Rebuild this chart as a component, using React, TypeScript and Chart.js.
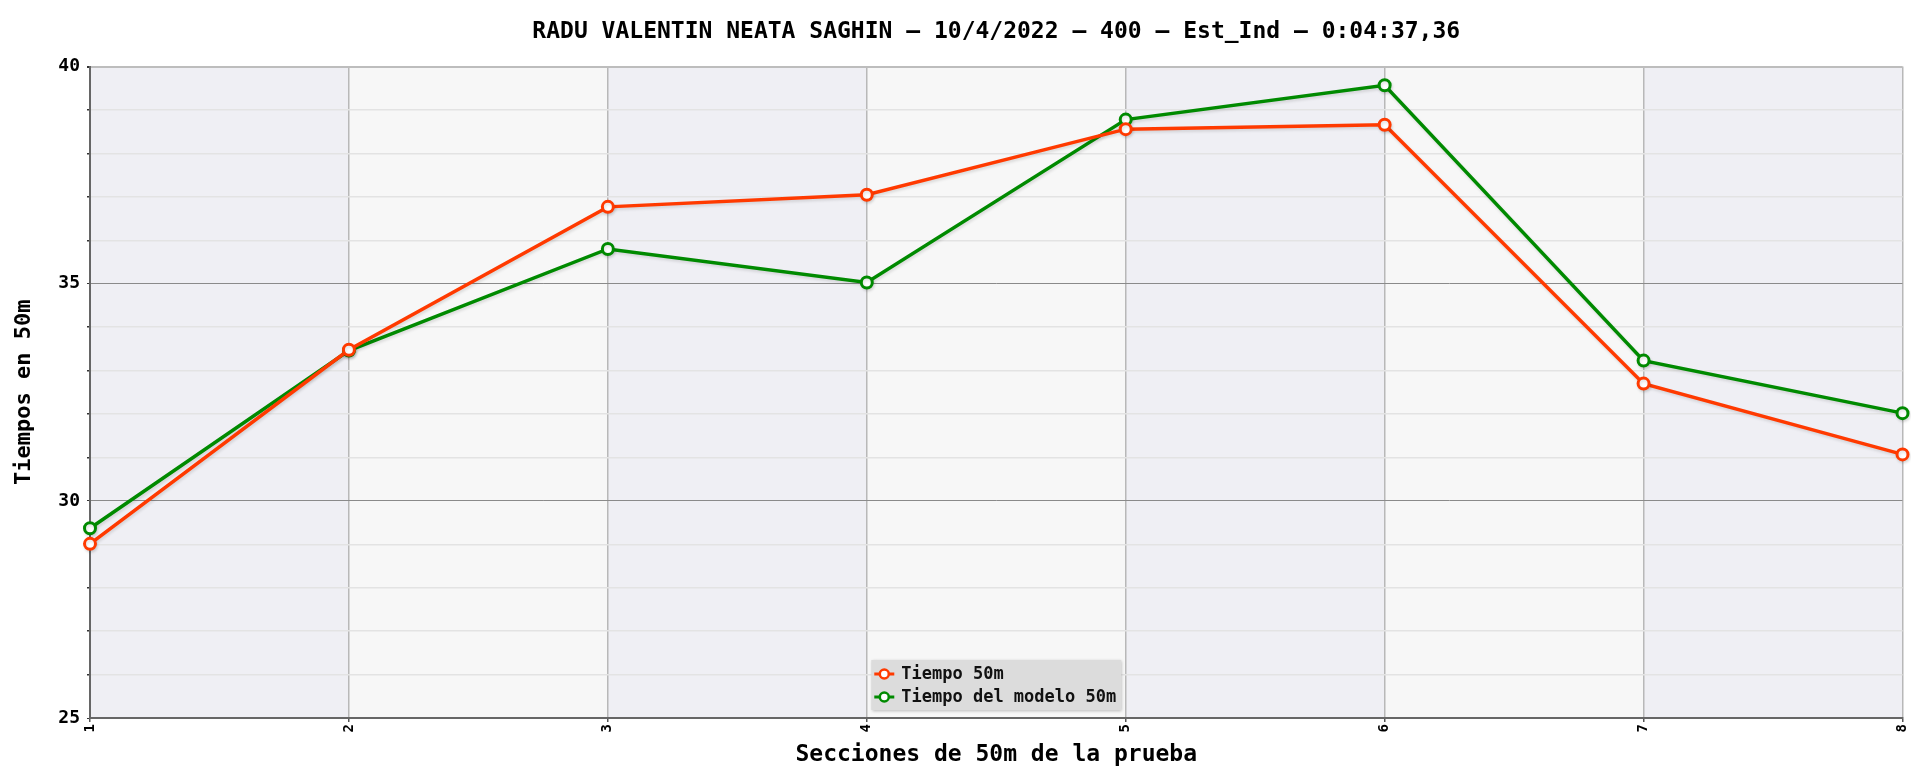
import React, { useEffect, useRef } from 'react';
import { Chart, registerables } from 'chart.js';

Chart.register(...registerables);

const sections = ['1', '2', '3', '4', '5', '6', '7', '8'];
const tiempo50 = [29.01, 33.48, 36.77, 37.05, 38.56, 38.66, 32.7, 31.07];
const tiempoModelo50 = [29.37, 33.46, 35.8, 35.03, 38.78, 39.57, 33.23, 32.02];
const seriesLabels = ['Tiempo 50m', 'Tiempo del modelo 50m'];
const titleText = 'RADU VALENTIN NEATA SAGHIN – 10/4/2022 – 400 – Est_Ind – 0:04:37,36';
const xTitle = 'Secciones de 50m de la prueba';
const yTitle = 'Tiempos en 50m';
const yMin = 25;
const yMax = 40;

const RED = '#ff3a00';
const GREEN = '#008a00';
const FONT = '"DejaVu Sans Mono", "Liberation Mono", monospace';
const TITLE_SIZE = 23;
const TITLE_PAD_TOP = 18;

const bandsPlugin = {
  id: 'bands',
  beforeDraw(chart: any) {
    const { ctx, chartArea: ca } = chart;
    const xs = chart.scales.x;
    ctx.save();
    ctx.fillStyle = '#ffffff';
    ctx.fillRect(0, 0, chart.width, chart.height);
    for (let i = 0; i < sections.length - 1; i++) {
      const a = xs.getPixelForValue(i);
      const b = xs.getPixelForValue(i + 1);
      ctx.fillStyle = i % 2 === 0 ? '#efeff4' : '#f7f7f7';
      ctx.fillRect(a, ca.top, b - a, ca.bottom - ca.top);
    }
    ctx.restore();
  },
};

const shadowPlugin = {
  id: 'lineShadow',
  beforeDatasetDraw(chart: any) {
    const ctx = chart.ctx;
    ctx.save();
    ctx.shadowColor = 'rgba(0,0,0,0.12)';
    ctx.shadowBlur = 3;
    ctx.shadowOffsetX = 1;
    ctx.shadowOffsetY = 2;
  },
  afterDatasetDraw(chart: any) {
    chart.ctx.restore();
  },
};

const titleDrawPlugin = {
  id: 'centeredTitle',
  afterDraw(chart: any) {
    const { ctx, chartArea: ca } = chart;
    ctx.save();
    ctx.font = `bold ${TITLE_SIZE}px ${FONT}`;
    ctx.fillStyle = '#000';
    ctx.textAlign = 'center';
    ctx.textBaseline = 'middle';
    ctx.fillText(titleText, (ca.left + ca.right) / 2, TITLE_PAD_TOP + (TITLE_SIZE * 1.2) / 2);
    ctx.restore();
  },
};

const legendPlugin = {
  id: 'customLegend',
  afterDraw(chart: any) {
    const { ctx, chartArea: ca } = chart;
    const items = [
      { label: seriesLabels[0], color: RED },
      { label: seriesLabels[1], color: GREEN },
    ];
    ctx.save();
    ctx.font = `bold 17px ${FONT}`;
    let textW = 0;
    items.forEach((it) => {
      textW = Math.max(textW, ctx.measureText(it.label).width);
    });
    const boxW = 30 + textW + 5;
    const boxH = 50;
    const x0 = (ca.left + ca.right) / 2 - boxW / 2;
    const y0 = ca.bottom - 8 - boxH;
    ctx.shadowColor = 'rgba(0,0,0,0.25)';
    ctx.shadowBlur = 3;
    ctx.shadowOffsetX = 1;
    ctx.shadowOffsetY = 1;
    ctx.fillStyle = '#dcdcdc';
    ctx.fillRect(x0, y0, boxW, boxH);
    ctx.shadowColor = 'transparent';
    items.forEach((it, i) => {
      const cy = y0 + 14 + i * 23;
      ctx.strokeStyle = it.color;
      ctx.lineWidth = 3;
      ctx.beginPath();
      ctx.moveTo(x0 + 3, cy);
      ctx.lineTo(x0 + 23, cy);
      ctx.stroke();
      ctx.beginPath();
      ctx.arc(x0 + 13, cy, 4.5, 0, Math.PI * 2);
      ctx.fillStyle = '#ffffff';
      ctx.fill();
      ctx.lineWidth = 2.5;
      ctx.stroke();
      ctx.fillStyle = '#111';
      ctx.textBaseline = 'middle';
      ctx.textAlign = 'left';
      ctx.fillText(it.label, x0 + 30, cy + 1);
    });
    ctx.restore();
  },
};

export default function App() {
  const canvasRef = useRef<HTMLCanvasElement | null>(null);

  useEffect(() => {
    document.body.style.margin = '0';
    const canvas = canvasRef.current;
    if (!canvas) return;
    const chart = new Chart(canvas, {
      type: 'line',
      data: {
        labels: sections,
        datasets: [
          {
            label: seriesLabels[0],
            data: tiempo50,
            borderColor: RED,
            backgroundColor: RED,
            borderWidth: 3.5,
            pointRadius: 5.5,
            pointBorderWidth: 3,
            pointBackgroundColor: '#ffffff',
            pointBorderColor: RED,
            tension: 0,
          },
          {
            label: seriesLabels[1],
            data: tiempoModelo50,
            borderColor: GREEN,
            backgroundColor: GREEN,
            borderWidth: 3.5,
            pointRadius: 5.5,
            pointBorderWidth: 3,
            pointBackgroundColor: '#ffffff',
            pointBorderColor: GREEN,
            tension: 0,
          },
        ],
      },
      options: {
        responsive: false,
        animation: false,
        layout: { padding: { left: 0, right: 0, top: 0, bottom: 0 } },
        plugins: {
          legend: { display: false },
          tooltip: { enabled: false },
          title: {
            display: true,
            text: titleText,
            color: 'rgba(0,0,0,0)',
            font: { family: FONT, size: TITLE_SIZE, weight: 'bold' },
            padding: { top: TITLE_PAD_TOP, bottom: 21 },
          },
        },
        scales: {
          x: {
            type: 'category',
            offset: false,
            afterFit(scale: any) {
              scale.height = 53;
              scale.paddingRight = 4;
              scale.paddingLeft = 0;
            },
            border: { display: true, color: '#666', width: 2 },
            grid: {
              color: '#b8b8b8',
              lineWidth: 1.5,
              drawTicks: true,
              tickLength: 4,
              tickColor: '#555',
            },
            ticks: {
              color: '#000',
              font: { family: FONT, size: 14, weight: 'bold' },
              minRotation: 90,
              maxRotation: 90,
              padding: 2,
              autoSkip: false,
            },
            title: {
              display: true,
              text: xTitle,
              color: '#000',
              font: { family: FONT, size: 23, weight: 'bold' },
              padding: { top: 0, bottom: 2 },
            },
          },
          y: {
            min: yMin,
            max: yMax,
            afterFit(scale: any) {
              scale.width = 90;
            },
            border: { display: true, color: '#666', width: 2 },
            grid: {
              color: (c: any) => {
                const v = c.tick ? c.tick.value : 0;
                if (v === yMax) return '#bdbdbd';
                return v % 5 === 0 ? '#8a8a8a' : '#e3e3e3';
              },
              lineWidth: (c: any) => {
                const v = c.tick ? c.tick.value : 0;
                if (v === yMax) return 2;
                return v % 5 === 0 ? 1 : 1.5;
              },
              drawTicks: true,
              tickLength: 3,
              tickColor: '#333',
            },
            ticks: {
              stepSize: 1,
              color: '#000',
              font: { family: FONT, size: 18, weight: 'bold' },
              padding: 7,
              autoSkip: false,
              callback: (v: any) => (Number(v) % 5 === 0 ? String(v) : ''),
            },
            title: {
              display: true,
              text: yTitle,
              color: '#000',
              font: { family: FONT, size: 22, weight: 'bold' },
              padding: { top: 11, bottom: 0 },
            },
          },
        },
      },
      plugins: [bandsPlugin, shadowPlugin, titleDrawPlugin, legendPlugin],
    } as any);
    return () => chart.destroy();
  }, []);

  return (
    <div style={{ width: 1911, height: 771 }}>
      <canvas ref={canvasRef} width={1911} height={771} style={{ display: 'block' }} />
    </div>
  );
}
